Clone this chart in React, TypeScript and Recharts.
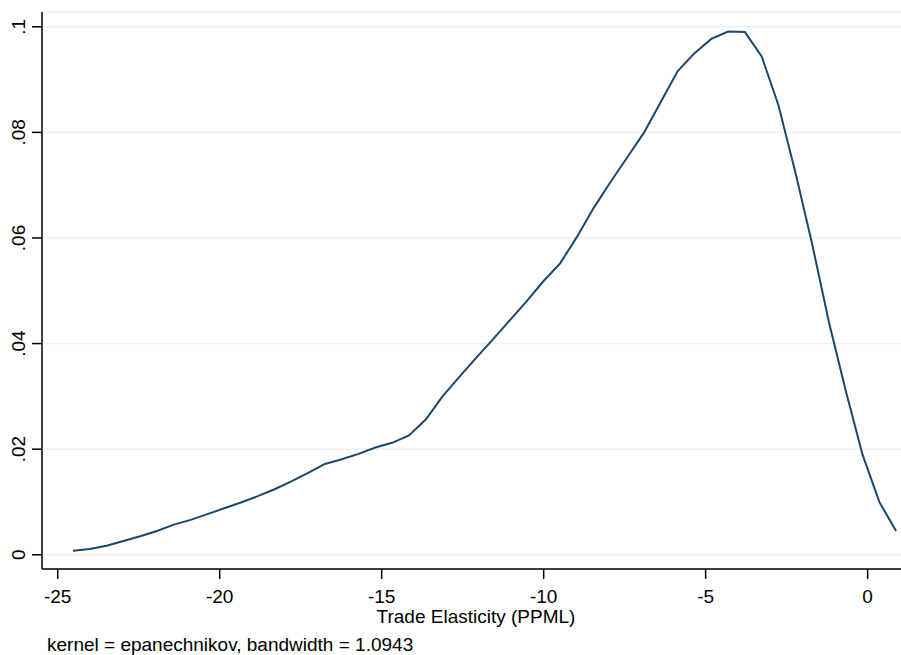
import React from 'react';
import { LineChart, Line, XAxis, YAxis, CartesianGrid } from 'recharts';

// kdensity evaluation points (Trade Elasticity, PPML) and density
const elasticity = [
  -24.528, -24.01, -23.491, -22.973, -22.454, -21.936, -21.417, -20.899, -20.38, -19.862,
  -19.343, -18.825, -18.306, -17.788, -17.269, -16.751, -16.232, -15.714, -15.195, -14.677,
  -14.158, -13.64, -13.121, -12.603, -12.084, -11.566, -11.047, -10.529, -10.01, -9.492,
  -8.973, -8.455, -7.936, -7.418, -6.899, -6.381, -5.862, -5.344, -4.825, -4.307,
  -3.788, -3.27, -2.751, -2.233, -1.714, -1.196, -0.677, -0.159, 0.36, 0.878,
];

const density = [
  0.00076, 0.0011, 0.0017, 0.0026, 0.0035, 0.0045, 0.0057, 0.0066, 0.0077, 0.0088,
  0.0099, 0.0111, 0.0124, 0.0139, 0.0155, 0.0172, 0.0181, 0.0191, 0.0203, 0.0212,
  0.0226, 0.0256, 0.03, 0.0337, 0.0373, 0.0408, 0.0444, 0.048, 0.0518, 0.0552,
  0.0602, 0.0657, 0.0706, 0.0753, 0.08, 0.0858, 0.0916, 0.095, 0.0977, 0.0991,
  0.099, 0.0944, 0.0851, 0.0725, 0.0589, 0.0441, 0.0311, 0.019, 0.01, 0.0045,
];

const xTicks = [-25, -20, -15, -10, -5, 0];
const yTicks = [0, 0.02, 0.04, 0.06, 0.08, 0.1];
const yTickLabels = ['0', '.02', '.04', '.06', '.08', '.1'];

const xTitle = 'Trade Elasticity (PPML)';
const note = 'kernel = epanechnikov, bandwidth = 1.0943';

const FONT = 'Arial, "Liberation Sans", sans-serif';

const data = elasticity.map((x, i) => ({ x, d: density[i] }));

function YTick(props: any) {
  const { y, payload } = props;
  const idx = yTicks.indexOf(payload.value);
  const bx = 25;
  return (
    <text
      x={bx}
      y={y}
      transform={`rotate(-90, ${bx}, ${y})`}
      textAnchor="middle"
      fontFamily={FONT}
      fontSize={19}
      fill="#000"
    >
      {idx >= 0 ? yTickLabels[idx] : payload.value}
    </text>
  );
}

function XTick(props: any) {
  const { x, payload } = props;
  return (
    <text x={x} y={602.7} textAnchor="middle" fontFamily={FONT} fontSize={19} fill="#000">
      {String(payload.value)}
    </text>
  );
}

export default function App() {
  return (
    <div style={{ position: 'absolute', left: 0, top: 0, width: 901, height: 655, background: '#fff' }}>
      <LineChart width={901} height={655} data={data} margin={{ top: 12, right: 0, bottom: 0, left: 0 }}>
        <CartesianGrid horizontal vertical={false} stroke="#eaf2f3" strokeWidth={1.5} />
        <XAxis
          dataKey="x"
          type="number"
          domain={[-25.485, 1.03]}
          ticks={xTicks}
          allowDataOverflow
          height={86}
          tickSize={10}
          stroke="#000"
          strokeWidth={1.5}
          tick={<XTick />}
          label={{
            content: () => (
              <text x={476} y={622.7} textAnchor="middle" fontFamily={FONT} fontSize={19} fill="#000">
                {xTitle}
              </text>
            ),
          }}
        />
        <YAxis
          type="number"
          domain={[-0.0027, 0.1028]}
          ticks={yTicks}
          allowDataOverflow
          width={42}
          tickSize={10}
          stroke="#000"
          strokeWidth={1.5}
          tick={<YTick />}
        />
        <Line
          type="linear"
          dataKey="d"
          stroke="#1a476f"
          strokeWidth={2}
          dot={false}
          isAnimationActive={false}
        />
      </LineChart>
      <svg width={901} height={655} style={{ position: 'absolute', left: 0, top: 0, pointerEvents: 'none' }}>
        <text x={47} y={650.7} fontFamily={FONT} fontSize={19} fill="#000">
          {note}
        </text>
      </svg>
    </div>
  );
}
